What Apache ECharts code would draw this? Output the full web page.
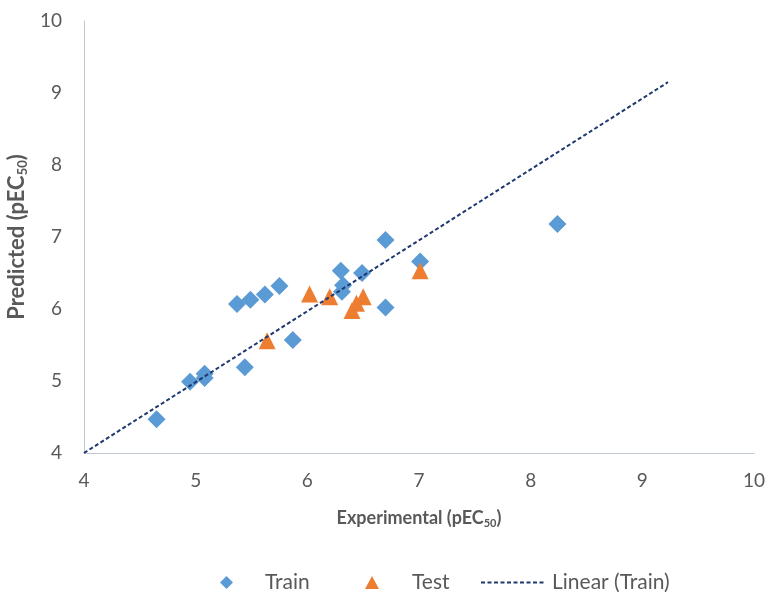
<!DOCTYPE html>
<html>
<head>
<meta charset="utf-8">
<script src="https://cdn.jsdelivr.net/npm/echarts@6/dist/echarts.min.js"></script>
<style>
  html, body { margin: 0; padding: 0; background: #ffffff; }
  #chart { width: 769px; height: 592px; }
</style>
</head>
<body>
<div id="chart"></div>
<script>
// Training set: experimental vs predicted pEC50
const trainExperimental = [4.65, 4.95, 5.08, 5.08, 5.44, 5.37, 5.49, 5.62, 5.75, 5.87, 6.30, 6.32, 6.31, 6.49, 6.70, 7.01, 6.70, 8.24];
const trainPredicted    = [4.47, 4.99, 5.10, 5.04, 5.19, 6.07, 6.13, 6.20, 6.32, 5.57, 6.53, 6.33, 6.24, 6.50, 6.02, 6.66, 6.96, 7.18];

// Test set
const testExperimental = [6.02, 6.20, 6.50, 6.44, 6.40, 5.64, 7.01];
const testPredicted    = [6.21, 6.17, 6.17, 6.08, 5.98, 5.56, 6.53];

// Linear trendline of the training set (end points)
const trendExperimental = [4.0, 9.23];
const trendPredicted    = [4.0, 9.15];

// Axis range and tick spacing
const axisMin = 4, axisMax = 10, axisStep = 1;

const zip = (xs, ys) => xs.map((x, i) => [x, ys[i]]);

const FONT = "Lato, 'Open Sans', sans-serif";
const TEXT = '#595959';
const AXIS = '#BFC6D4';
const TREND = '#1F3870';

const chart = echarts.init(document.getElementById('chart'), null, { renderer: 'canvas' });

const legendText = (pad) => ({ color: TEXT, fontSize: 21, fontFamily: FONT, padding: [0, 0, 0, pad] });

chart.setOption({
  animation: false,
  backgroundColor: '#ffffff',
  grid: { left: 84, right: 15, top: 21, bottom: 139, containLabel: false, outerBoundsMode: 'none' },
  xAxis: {
    type: 'value', min: axisMin, max: axisMax, interval: axisStep,
    name: 'Experimental (pEC{sub|50})',
    nameLocation: 'middle', nameGap: 55,
    nameTextStyle: {
      color: TEXT, fontSize: 18, fontWeight: 'bold', fontFamily: FONT,
      rich: { sub: { fontSize: 11, fontWeight: 'bold', color: TEXT, fontFamily: FONT, padding: [10, 0, 0, 0] } }
    },
    axisLine: { show: true, lineStyle: { color: AXIS, width: 1 } },
    axisTick: { show: false },
    splitLine: { show: false },
    axisLabel: { color: TEXT, fontSize: 19, fontFamily: FONT, margin: 18 }
  },
  yAxis: {
    type: 'value', min: axisMin, max: axisMax, interval: axisStep,
    name: 'Predicted (pEC{sub|50})',
    nameLocation: 'middle', nameGap: 35, nameRotate: 90,
    nameTextStyle: {
      color: TEXT, fontSize: 22, fontWeight: 'bold', fontFamily: FONT,
      rich: { sub: { fontSize: 13, fontWeight: 'bold', color: TEXT, fontFamily: FONT, padding: [12, 0, 0, 0] } }
    },
    axisLine: { show: true, onZero: false, lineStyle: { color: AXIS, width: 1 } },
    axisTick: { show: false },
    splitLine: { show: false },
    axisLabel: { color: TEXT, fontSize: 19, fontFamily: FONT, margin: 22 }
  },
  legend: [
    {
      data: [{ name: 'Train', icon: 'diamond' }],
      left: 220, top: 572, padding: 0, itemWidth: 13, itemHeight: 13,
      textStyle: legendText(27)
    },
    {
      data: [{ name: 'Test', icon: 'triangle' }],
      left: 365, top: 572, padding: 0, itemWidth: 14, itemHeight: 13,
      textStyle: legendText(28)
    },
    {
      data: [{ name: 'Linear (Train)', itemStyle: { color: 'rgba(0,0,0,0)', borderWidth: 0 } }],
      left: 480, top: 572, padding: 0, itemWidth: 63, itemHeight: 13,
      textStyle: legendText(3)
    }
  ],
  series: [
    {
      name: 'Train', type: 'scatter', symbol: 'diamond', symbolSize: 18,
      itemStyle: { color: '#5B9BD5', opacity: 1 },
      data: zip(trainExperimental, trainPredicted), z: 2
    },
    {
      name: 'Test', type: 'scatter', symbol: 'triangle', symbolSize: [17, 17],
      itemStyle: { color: '#ED7D31', opacity: 1 },
      data: zip(testExperimental, testPredicted), z: 3
    },
    {
      name: 'Linear (Train)', type: 'line', symbol: 'none', showSymbol: false,
      lineStyle: { color: TREND, width: 2, type: [4, 2.5] },
      itemStyle: { color: TREND },
      data: zip(trendExperimental, trendPredicted), z: 4, silent: true
    }
  ]
});
</script>
</body>
</html>
